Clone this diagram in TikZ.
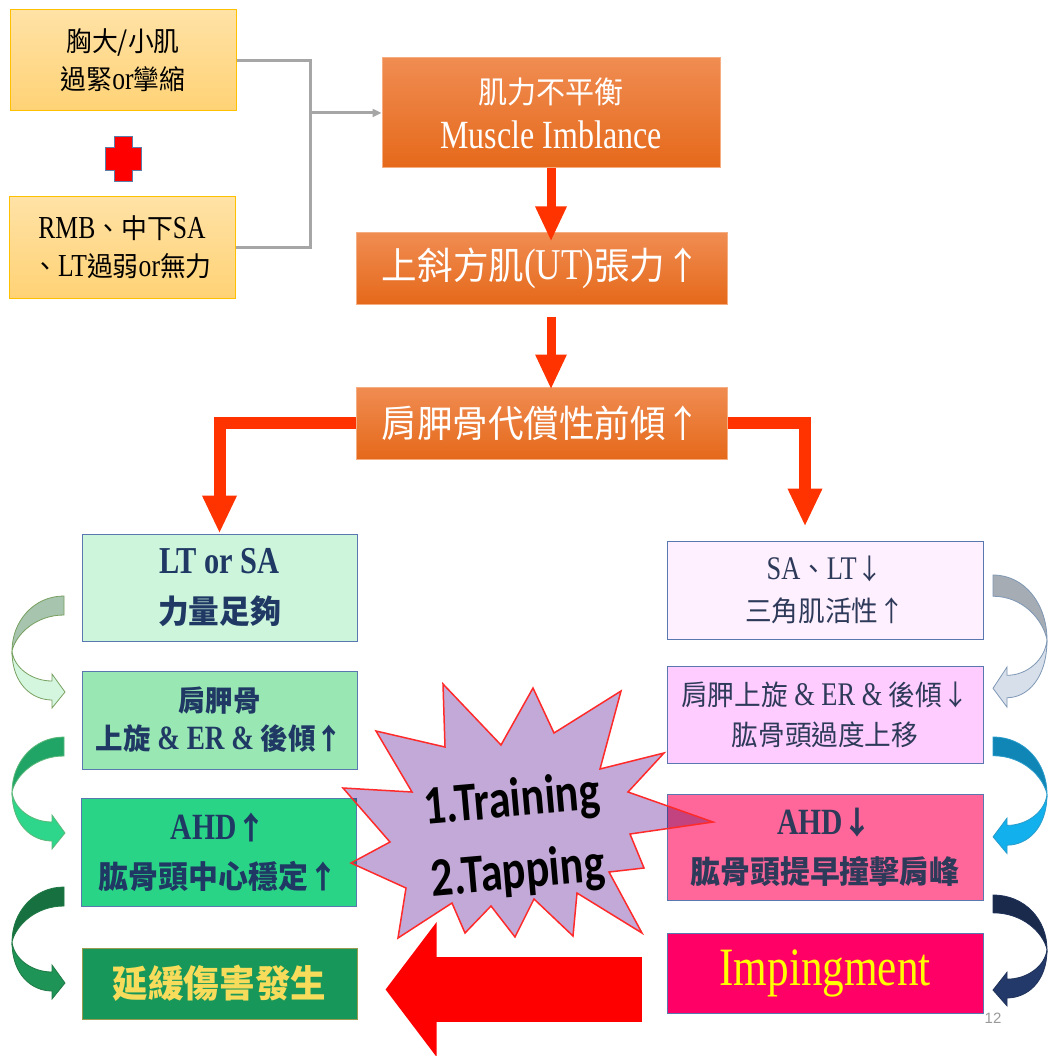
\documentclass[tikz,border=0pt]{standalone}
\usepackage{fontspec}
\setmainfont{Liberation Serif}[FakeStretch=0.8]
\newfontfamily\cjk{Noto Sans CJK TC}[Scale=0.85,FakeStretch=0.95]
\newfontfamily\starfont{Carlito}[FakeStretch=0.8]
\newfontfamily\pagefont{Liberation Sans}
\newcommand{\zh}[1]{{\cjk #1}}
\usetikzlibrary{arrows.meta}
\definecolor{causetop}{HTML}{FFE2A6}
\definecolor{causebot}{HTML}{FFD275}
\definecolor{causeedge}{HTML}{FFC000}
\definecolor{crossred}{HTML}{FF0000}
\definecolor{crossedge}{HTML}{5B7DA8}
\definecolor{orangetop}{HTML}{F08C52}
\definecolor{orangebot}{HTML}{E5691A}
\definecolor{orangeedge}{HTML}{F4AE82}
\definecolor{feedgray}{HTML}{A6A6A6}
\definecolor{flowred}{HTML}{FF3300}
\definecolor{bigred}{HTML}{FF0000}
\definecolor{boxedge}{HTML}{5A78B0}
\definecolor{navytext}{HTML}{1F3864}
\definecolor{slatetext}{HTML}{2E3A59}
\definecolor{ltsafill}{HTML}{CCF5DB}
\definecolor{upLfill}{HTML}{99E8B4}
\definecolor{ahdLfill}{HTML}{2AD486}
\definecolor{delayfill}{HTML}{17975A}
\definecolor{delayedge}{HTML}{9A9A50}
\definecolor{delaytext}{HTML}{F6DC5A}
\definecolor{saRfill}{HTML}{FFF0FF}
\definecolor{upRfill}{HTML}{FFCCFF}
\definecolor{ahdRfill}{HTML}{FF6699}
\definecolor{impfill}{HTML}{FF0066}
\definecolor{imptext}{HTML}{FFFF00}
\definecolor{starfill}{HTML}{C3A9D7}
\definecolor{staredge}{HTML}{FF2A2A}
\definecolor{pagegray}{HTML}{9A9A9A}
\definecolor{lgback1}{HTML}{A6C4AE}
\definecolor{lgfront1}{HTML}{D4F6DF}
\definecolor{lgedge1}{HTML}{78A060}
\definecolor{lgback2}{HTML}{20A566}
\definecolor{lgfront2}{HTML}{2DD68A}
\definecolor{lgedge2}{HTML}{5CB87A}
\definecolor{lgback3}{HTML}{16703F}
\definecolor{lgfront3}{HTML}{1F9457}
\definecolor{lgedge3}{HTML}{1F7A45}
\definecolor{rbback1}{HTML}{A5ACB4}
\definecolor{rbfront1}{HTML}{D6DFEA}
\definecolor{rbedge1}{HTML}{7F98B5}
\definecolor{rbback2}{HTML}{0F86B6}
\definecolor{rbfront2}{HTML}{12B0EC}
\definecolor{rbedge2}{HTML}{2A9CCB}
\definecolor{rbback3}{HTML}{1A2A4C}
\definecolor{rbfront3}{HTML}{23396A}
\definecolor{rbedge3}{HTML}{1F3259}

\begin{document}
\begin{tikzpicture}[
        x=1pt, y=-1pt,
        causebox/.style={draw=causeedge, line width=1pt, top color=causetop, bottom color=causebot, minimum width=226pt, minimum height=101pt, inner sep=0pt, align=center, font=\fontsize{32}{38}\selectfont},
        orangebox/.style={draw=orangeedge, line width=1pt, top color=orangetop, bottom color=orangebot, minimum width=371pt, inner sep=0pt, align=center, text=white},
        leftbox/.style={draw=boxedge, line width=1pt, minimum width=275pt, inner sep=0pt, align=center, text=navytext},
        rightbox/.style={draw=boxedge, line width=1pt, minimum width=316pt, inner sep=0pt, align=center, text=slatetext},
        flow/.style={draw=flowred, line width=9pt, -{Triangle[length=35pt,width=29pt]}},
        branch/.style={draw=flowred, line width=12pt, -{Triangle[length=38pt,width=32pt]}},
        feedline/.style={draw=feedgray, line width=3pt},
        feed/.style={feedline, -{Triangle[length=9pt,width=8pt]}},
        bigflow/.style={draw=bigred, line width=65pt, -{Triangle[length=51pt,width=132pt]}},
        startext/.style={align=center, inner sep=0pt, font=\starfont\bfseries\fontsize{55}{72}\selectfont},
        pagenum/.style={text=pagegray, inner sep=0pt, font=\pagefont\fontsize{15}{15}\selectfont}
    ]
    \fill[white] (0,0) rectangle (1049,1056);
    \useasboundingbox (0,0) rectangle (1049,1056);

    % causes
    \node[causebox] (pecs) at (123,60.5) {\zh{胸大/小肌}\\\zh{過緊}or\zh{攣縮}};
    \node[causebox] (rmb) at (122,247.5) {RMB\zh{、中下}SA\\\zh{、}LT\zh{過弱}or\zh{無力}};
    \filldraw[fill=crossred, draw=crossedge, line width=1pt] (114,137) -- (132,137) -- (132,148) -- (141,148) -- (141,171) -- (132,171) -- (132,182) -- (114,182) -- (114,171) -- (105,171) -- (105,148) -- (114,148) -- cycle;

    % main chain
    \node[orangebox, minimum width=338pt, minimum height=110pt, font=\fontsize{36}{45}\selectfont] (imbal) at (551,113) {\zh{肌力不平衡}\\{\fontsize{40}{45}\selectfont Muscle Imblance}};
    \node[orangebox, minimum height=71pt, font=\fontsize{44}{50}\selectfont] (ut) at (541.5,268.5) {\zh{上斜方肌}(UT)\zh{張力↑}};
    \node[orangebox, minimum height=72pt, font=\fontsize{44}{50}\selectfont] (tilt) at (541.5,423) {\zh{肩胛骨代償性前傾↑}};

    \coordinate (merge) at (310,113);
    \draw[feedline] (pecs.east) -| (merge) |- (rmb.east);
    \draw[feed] (merge) -- (imbal.west);
    \draw[flow, shorten >=-9pt] (imbal.south) -- (imbal.south |- ut.north);
    \draw[flow, shorten <=12pt, shorten >=-3pt] (imbal.south |- ut.south) -- (imbal.south |- tilt.north);

    % left column
    \node[leftbox, fill=ltsafill, minimum height=107pt, font=\bfseries\fontsize{38}{50}\selectfont] (ltsa) at (219.5,587.5) {LT or SA\\\zh{力量足夠}};
    \node[leftbox, fill=upLfill, minimum height=98pt, font=\bfseries\fontsize{34}{38}\selectfont] (upL) at (219.5,720) {\zh{肩胛骨}\\\zh{上旋} \& ER \& \zh{後傾↑}};
    \node[leftbox, fill=ahdLfill, minimum height=108pt, font=\bfseries\fontsize{37}{49}\selectfont] (ahdL) at (218.5,852) {AHD\zh{↑}\\\zh{肱骨頭中心穩定↑}};
    \node[leftbox, draw=delayedge, fill=delayfill, text=delaytext, minimum height=71pt, font=\bfseries\fontsize{44}{50}\selectfont] (delay) at (219.5,983.5) {\zh{延緩傷害發生}};

    % right column
    \node[rightbox, fill=saRfill, minimum height=98pt, font=\fontsize{33}{42}\selectfont] (saR) at (825,590) {SA\zh{、}LT\zh{↓}\\\zh{三角肌活性↑}};
    \node[rightbox, fill=upRfill, minimum height=97pt, font=\fontsize{33}{40}\selectfont] (upR) at (825,714.5) {\zh{肩胛上旋} \& ER \& \zh{後傾↓}\\\zh{肱骨頭過度上移}};
    \node[rightbox, fill=ahdRfill, minimum height=106pt, font=\bfseries\fontsize{37}{49}\selectfont] (ahdR) at (825,847) {AHD\zh{↓}\\\zh{肱骨頭提早撞擊肩峰}};
    \node[rightbox, fill=impfill, text=imptext, minimum height=80pt, font=\fontsize{54}{60}\selectfont] (imp) at (825,973) {Impingment};

    \draw[branch] (tilt.west) -| (ltsa.north);
    \draw[branch, shorten >=14pt] (tilt.east) -| ([xshift=-20pt]saR.north);

    % bent arrows
    \foreach \ty/\backc/\frontc/\edgec in {596/lgback1/lgfront1/lgedge1, 737/lgback2/lgfront2/lgedge2, 887/lgback3/lgfront3/lgedge3}{
        \begin{scope}[shift={(64,\ty)}]
            \filldraw[fill=\backc, draw=\edgec, line width=0.8pt] (0,0) .. controls (-30,0) and (-52,25) .. (-52,55) .. controls (-48,38) and (-28,19) .. (0,19) -- cycle;
            \filldraw[fill=\frontc, draw=\edgec, line width=0.8pt] (-52,55) .. controls (-52,88) and (-32,104) .. (-12,104) -- (-12,112) -- (1,96) -- (-12,78) -- (-12,85) .. controls (-32,85) and (-50,72) .. (-52,55) -- cycle;
        \end{scope}
    }
    \foreach \ty/\sy/\backc/\frontc/\edgec in {575/1.18/rbback1/rbfront1/rbedge1, 737/1.04/rbback2/rbfront2/rbedge2, 895/0.99/rbback3/rbfront3/rbedge3}{
        \begin{scope}[shift={(993,\ty)}, xscale=-1, yscale=\sy]
            \filldraw[fill=\backc, draw=\edgec, line width=0.8pt] (0,0) .. controls (-32,0) and (-54,25) .. (-54,55) .. controls (-50,38) and (-30,18) .. (0,18) -- cycle;
            \filldraw[fill=\frontc, draw=\edgec, line width=0.8pt] (-54,55) .. controls (-54,88) and (-34,104) .. (-14,104) -- (-14,112) -- (0,96) -- (-14,78) -- (-14,85) .. controls (-34,85) and (-52,72) .. (-54,55) -- cycle;
        \end{scope}
    }

    % star
    \fill[starfill, blend mode=multiply] (443,684) -- (501,745) -- (533,688) -- (554,733) -- (621,691) -- (600,769) -- (664,753) -- (628,792) -- (713,822) -- (630,834) -- (644,868) -- (609,872) -- (642,933) -- (577,893) -- (573,936) -- (534,899) -- (515,937) -- (491,906) -- (465,933) -- (452,903) -- (398,938) -- (406,888) -- (351,863) -- (390,842) -- (343,788) -- (412,792) -- (376,731) -- (445,747) -- cycle;
    \draw[staredge, line width=1.5pt, line join=miter] (443,684) -- (501,745) -- (533,688) -- (554,733) -- (621,691) -- (600,769) -- (664,753) -- (628,792) -- (713,822) -- (630,834) -- (644,868) -- (609,872) -- (642,933) -- (577,893) -- (573,936) -- (534,899) -- (515,937) -- (491,906) -- (465,933) -- (452,903) -- (398,938) -- (406,888) -- (351,863) -- (390,842) -- (343,788) -- (412,792) -- (376,731) -- (445,747) -- cycle;
    \node[startext, rotate=5] (tips) at (515,838) {1.Training\\2.Tapping};

    \coordinate (bigtail) at (642,989.5);
    \draw[bigflow, shorten >=28pt] (bigtail) -- (bigtail -| delay.east);

    \node[pagenum] (pnum) at (993,1018) {12};
\end{tikzpicture}
\end{document}
